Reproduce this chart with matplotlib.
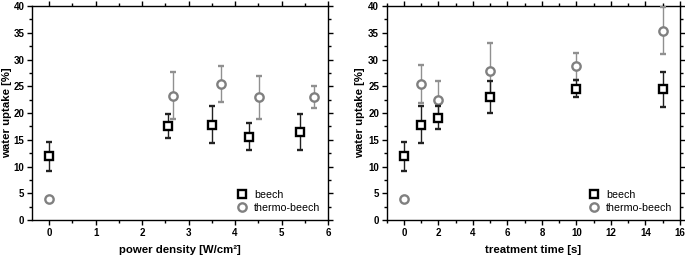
import matplotlib
matplotlib.use("Agg")
import matplotlib.pyplot as plt
from matplotlib.lines import Line2D
from matplotlib.ticker import MultipleLocator

plt.rcParams['font.family'] = ['Liberation Sans', 'DejaVu Sans']

# power density panel
pd_beech_x = [0.0, 2.55, 3.50, 4.30, 5.39]
pd_beech_y = [11.9, 17.6, 17.8, 15.6, 16.4]
pd_beech_lo = [9.2, 15.3, 14.4, 13.0, 13.0]
pd_beech_hi = [14.6, 19.9, 21.3, 18.2, 19.9]

pd_thermo_x = [0.0, 2.66, 3.70, 4.52, 5.70]
pd_thermo_y = [4.0, 23.2, 25.4, 22.9, 22.9]
pd_thermo_lo = [4.0, 18.9, 22.0, 18.9, 20.9]
pd_thermo_hi = [4.0, 27.6, 28.8, 26.9, 25.0]

# treatment time panel
tt_beech_x = [0, 1, 2, 5, 10, 15]
tt_beech_y = [11.9, 17.8, 19.1, 22.9, 24.5, 24.5]
tt_beech_lo = [9.2, 14.4, 17.0, 20.0, 22.9, 21.2]
tt_beech_hi = [14.6, 21.3, 21.3, 25.9, 26.2, 27.7]

tt_thermo_x = [0, 1, 2, 5, 10, 15]
tt_thermo_y = [4.0, 25.4, 22.4, 27.8, 28.7, 35.4]
tt_thermo_lo = [4.0, 21.9, 18.8, 22.6, 26.1, 31.0]
tt_thermo_hi = [4.0, 29.0, 26.0, 33.0, 31.3, 39.8]

beech_style = dict(marker='s', ms=5.5, mfc='white', mec='black', mew=1.7)
thermo_style = dict(marker='o', ms=6, mfc='white', mec='#808080', mew=1.7)


def draw_panel(ax, bx, by, blo, bhi, tx, ty, tlo, thi, xlabel, xlim, xmaj, xmin, ylab_x):
    ax.errorbar(tx, ty, yerr=[[y - l for y, l in zip(ty, tlo)], [h - y for y, h in zip(ty, thi)]],
                ls='none', ecolor='#909090', elinewidth=1.0, capsize=2.5, capthick=1.0,
                zorder=3, **thermo_style)
    ax.errorbar(bx, by, yerr=[[y - l for y, l in zip(by, blo)], [h - y for y, h in zip(by, bhi)]],
                ls='none', ecolor='#222222', elinewidth=1.0, capsize=2.5, capthick=1.0,
                zorder=4, **beech_style)
    ax.set_xlim(*xlim)
    ax.set_ylim(0, 40)
    ax.xaxis.set_major_locator(MultipleLocator(xmaj))
    ax.xaxis.set_minor_locator(MultipleLocator(xmin))
    ax.yaxis.set_major_locator(MultipleLocator(5))
    ax.yaxis.set_minor_locator(MultipleLocator(2.5))
    ax.tick_params(which='both', direction='out', top=True, right=True,
                   labelsize=7, width=1.0, pad=2)
    ax.tick_params(which='major', length=3.5)
    ax.tick_params(which='minor', length=2)
    for lbl in ax.get_xticklabels() + ax.get_yticklabels():
        lbl.set_fontweight('bold')
    for s in ax.spines.values():
        s.set_linewidth(1.0)
    ax.set_xlabel(xlabel, fontsize=8.2, fontweight='bold', va='center')
    ax.set_ylabel('water uptake [%]', fontsize=8.2, fontweight='bold', va='center')
    ax.xaxis.set_label_coords(0.5, -0.14)
    ax.yaxis.set_label_coords(ylab_x, 0.5)
    handles = [Line2D([], [], ls='none', **beech_style),
               Line2D([], [], ls='none', **thermo_style)]
    ax.legend(handles, ['beech', 'thermo-beech'], loc='lower right', frameon=False,
              fontsize=7.7, handletextpad=0.5, borderaxespad=0.3, labelspacing=0.25,
              handlelength=1.2)


fig = plt.figure(figsize=(6.85, 2.58), dpi=100)
ax1 = fig.add_axes([0.0467, 0.1473, 0.4321, 0.8294])
ax2 = fig.add_axes([0.5645, 0.1473, 0.4282, 0.8294])

draw_panel(ax1, pd_beech_x, pd_beech_y, pd_beech_lo, pd_beech_hi,
           pd_thermo_x, pd_thermo_y, pd_thermo_lo, pd_thermo_hi,
           'power density [W/cm²]', (-0.37, 6.0), 1, 0.5, -0.083)
draw_panel(ax2, tt_beech_x, tt_beech_y, tt_beech_lo, tt_beech_hi,
           tt_thermo_x, tt_thermo_y, tt_thermo_lo, tt_thermo_hi,
           'treatment time [s]', (-1.0, 16.0), 2, 1, -0.091)

fig.savefig('out.png', dpi=100)
